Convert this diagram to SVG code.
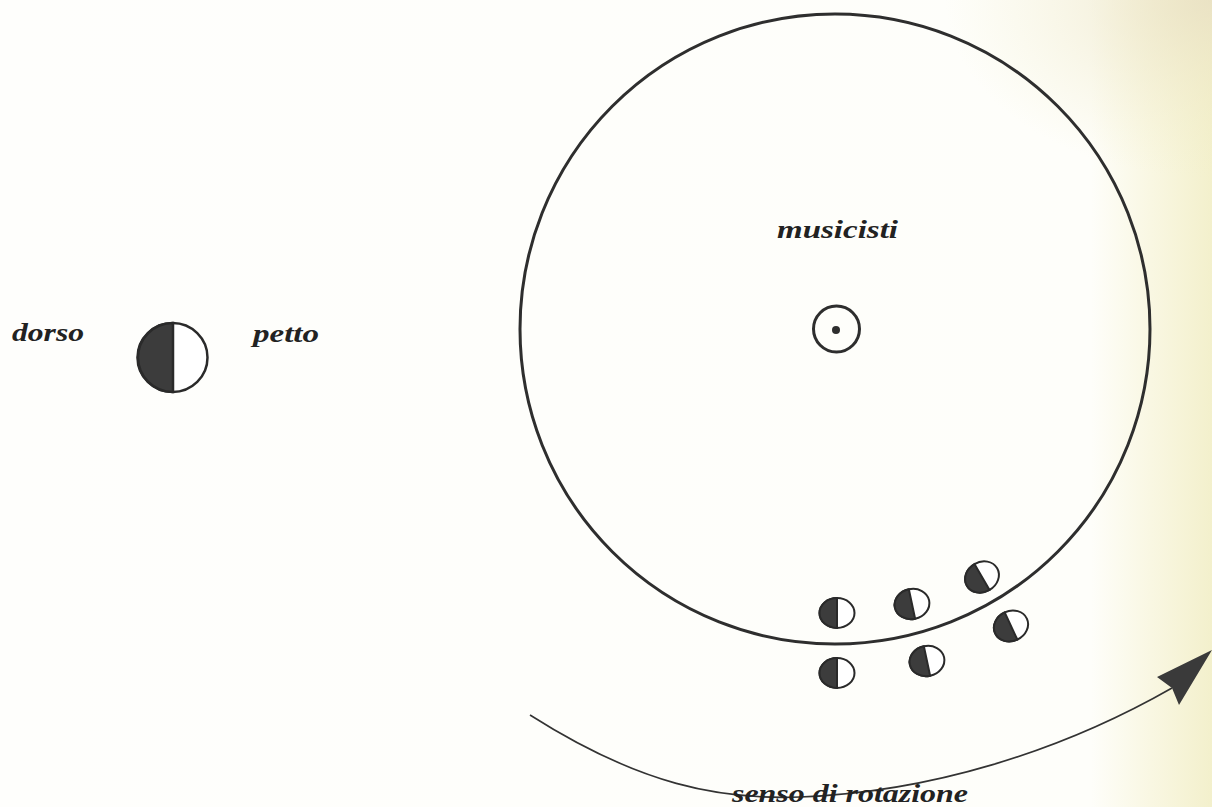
<svg xmlns="http://www.w3.org/2000/svg" width="1212" height="807" viewBox="0 0 1212 807">
<defs>
<linearGradient id="paper" x1="0" y1="0" x2="1" y2="0">
<stop offset="0" stop-color="#fefefc"/>
<stop offset="0.9" stop-color="#fefefa"/>
<stop offset="0.95" stop-color="#f9f7e2"/>
<stop offset="1" stop-color="#f3f0cc"/>
</linearGradient>
<radialGradient id="corner" cx="1" cy="0" r="0.22">
<stop offset="0" stop-color="#e8dfc2" stop-opacity="0.8"/>
<stop offset="1" stop-color="#f2eec6" stop-opacity="0"/>
</radialGradient>
<g id="person">
<ellipse cx="0" cy="0" rx="17.5" ry="15" fill="#ffffff" stroke="#2a2a2a" stroke-width="2"/>
<path d="M0,-15 A17.5,15 0 0 0 0,15 Z" fill="#3c3c3c" stroke="#2a2a2a" stroke-width="2"/>
</g>
</defs>
<style>
.lbl{font-family:"Liberation Serif","DejaVu Serif",serif;font-style:italic;font-weight:bold;font-size:26px;fill:#222}
.ring{fill:none;stroke:#2e2e2e;stroke-width:3}
</style>
<rect width="1212" height="807" fill="url(#paper)"/>
<rect width="1212" height="807" fill="url(#corner)"/>

<g id="legend">
<text class="lbl" x="12" y="341" textLength="72" lengthAdjust="spacingAndGlyphs">dorso</text>
<g id="legend-symbol">
<ellipse cx="172.5" cy="357.5" rx="35" ry="34.5" fill="#ffffff" stroke="#2a2a2a" stroke-width="2.5"/>
<path d="M173,323 A35,34.5 0 0 0 173,392 Z" fill="#3c3c3c" stroke="#2a2a2a" stroke-width="2.5"/>
</g>
<text class="lbl" x="253" y="342" textLength="66" lengthAdjust="spacingAndGlyphs">petto</text>
</g>

<g id="stage">
<circle class="ring" cx="835" cy="329" r="315"/>
<text class="lbl" x="777" y="238" textLength="121" lengthAdjust="spacingAndGlyphs">musicisti</text>
</g>

<g id="center">
<circle cx="836.5" cy="329" r="23" fill="none" stroke="#2e2e2e" stroke-width="3"/>
<circle cx="836" cy="330" r="4" fill="#2e2e2e"/>
</g>

<g id="dancers">
<use id="d1" href="#person" transform="translate(837,613)"/>
<use id="d2" href="#person" transform="translate(912,604) rotate(-12)"/>
<use id="d3" href="#person" transform="translate(982,577) rotate(-30)"/>
<use id="d4" href="#person" transform="translate(1011,626) rotate(-25)"/>
<use id="d5" href="#person" transform="translate(927,661) rotate(-12)"/>
<use id="d6" href="#person" transform="translate(837,673)"/>
</g>

<g id="connectors">
<path d="M530,715 C640,785 720,800 800,797 C930,792 1060,752 1172,688" fill="none" stroke="#333" stroke-width="1.6"/>
<polygon points="1212,650 1157,677 1172,688 1179,705" fill="#3a3a3a"/>
</g>

<g id="rotation-label">
<text class="lbl" x="732" y="802" textLength="236" lengthAdjust="spacingAndGlyphs">senso di rotazione</text>
</g>
</svg>
